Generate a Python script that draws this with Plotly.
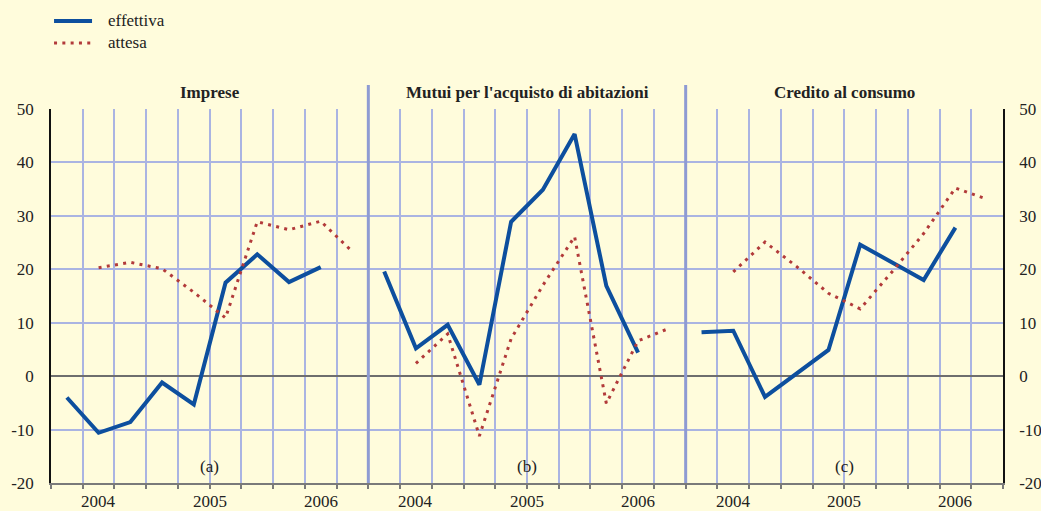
import plotly.graph_objects as go

# ---- data -------------------------------------------------------------
pannelli = ["Imprese", "Mutui per l'acquisto di abitazioni", "Credito al consumo"]
lettere = ["(a)", "(b)", "(c)"]
anni = ["2004", "2005", "2006"]
anni_pos = [1.5, 5.0, 8.5]          # year label location, in quarter slots of a panel
slot_per_pannello = 10              # quarter slots in each panel
serie = ["effettiva", "attesa"]
y_tick_vals = [-20, -10, 0, 10, 20, 30, 40, 50]
y_tick_text = ["-20", "-10", "0", "10", "20", "30", "40", "50"]

effettiva_imprese = [-4.0, -10.6, -8.6, -1.2, -5.3, 17.5, 22.8, 17.6, 20.4]
attesa_imprese = [20.3, 21.3, 20.1, 15.7, 10.9, 28.9, 27.4, 29.0, 23.3]
effettiva_mutui = [19.6, 5.2, 9.6, -1.6, 28.9, 34.9, 45.3, 16.9, 4.4]
attesa_mutui = [2.4, 7.9, -11.2, 7.0, 17.0, 26.1, -5.1, 6.6, 9.0]
effettiva_consumo = [8.2, 8.5, -3.9, 0.5, 4.9, 24.6, 21.3, 18.0, 27.8]
attesa_consumo = [19.5, 25.1, 20.5, 15.5, 12.6, 19.5, 26.7, 35.2, 33.1]

effettiva = [effettiva_imprese, effettiva_mutui, effettiva_consumo]
attesa = [attesa_imprese, attesa_mutui, attesa_consumo]

# ---- style ------------------------------------------------------------
BG = "#FFFCDC"
GRID = "#AAB4E2"
DIV = "#8E9BD3"
BLUE = "#0D4F9E"
RED = "#B23A3A"
TXT = "#222222"
FONT = "Liberation Serif"
DOT = "3px,5.3px"

fig = go.Figure()

for p in range(3):
    off = p * slot_per_pannello
    xe = [off + i + 0.5 for i in range(len(effettiva[p]))]
    xa = [off + i + 1.5 for i in range(len(attesa[p]))]
    fig.add_trace(go.Scatter(
        x=xe, y=effettiva[p], mode="lines", name=serie[0], showlegend=False,
        line=dict(color=BLUE, width=4), yaxis="y"))
    fig.add_trace(go.Scatter(
        x=xa, y=attesa[p], mode="lines", name=serie[1], showlegend=False,
        line=dict(color=RED, width=3, dash=DOT), yaxis="y"))

# invisible trace to carry the right-hand axis
fig.add_trace(go.Scatter(x=[0], y=[0], yaxis="y2", mode="markers",
                         marker=dict(opacity=0), showlegend=False, hoverinfo="skip"))

total = 3 * slot_per_pannello

annotations = []
shapes = []
for p in range(3):
    off = p * slot_per_pannello
    annotations.append(dict(
        x=off + slot_per_pannello / 2, xref="x", y=1.043, yref="paper",
        text="<b>" + pannelli[p] + "</b>", showarrow=False,
        font=dict(family=FONT, size=17, color=TXT), yanchor="middle"))
    annotations.append(dict(
        x=off + slot_per_pannello / 2, xref="x", y=-16.9, yref="y",
        text=lettere[p], showarrow=False,
        font=dict(family=FONT, size=17, color=TXT), yanchor="middle"))
    for a, pos in zip(anni, anni_pos):
        annotations.append(dict(
            x=off + pos, xref="x", y=0, yref="paper", yanchor="top", yshift=-8,
            borderpad=0, text=a, showarrow=False,
            font=dict(family=FONT, size=17, color=TXT)))
    if p > 0:
        shapes.append(dict(type="line", xref="x", yref="paper", x0=off, x1=off,
                           y0=0, y1=1.064, line=dict(color=DIV, width=3), layer="above"))

# legend (drawn by hand to match the original key)
leg_rows = [1.2353, 1.1765]
leg_styles = [dict(color=BLUE, width=4), dict(color=RED, width=3, dash=DOT)]
for name, yy, st in zip(serie, leg_rows, leg_styles):
    shapes.append(dict(type="line", xref="paper", yref="paper", x0=0.0032, x1=0.0431,
                       y0=yy, y1=yy, line=st))
    annotations.append(dict(x=0.0578, xref="paper", y=yy, yref="paper", text=name,
                            showarrow=False, xanchor="left", yanchor="middle",
                            font=dict(family=FONT, size=17, color=TXT)))

fig.update_layout(
    width=1041, height=511,
    margin=dict(l=51, r=38, t=109, b=28, autoexpand=False),
    paper_bgcolor=BG, plot_bgcolor=BG,
    font=dict(family=FONT, size=17, color=TXT),
    showlegend=False,
    annotations=annotations,
    shapes=shapes,
    xaxis=dict(range=[0, total], tick0=0, dtick=1, showgrid=True, gridcolor=GRID,
               gridwidth=1.5, showticklabels=False, ticks="outside", ticklen=4,
               tickcolor="#7A7A7A", tickwidth=1.5, showline=True, linecolor="#7A7A7A",
               linewidth=1.5, zeroline=False, fixedrange=True),
    yaxis=dict(range=[-20, 50], tickvals=y_tick_vals, ticktext=y_tick_text,
               showgrid=True, gridcolor=GRID,
               gridwidth=1.5, zeroline=True, zerolinecolor="#6E6E6E", zerolinewidth=2,
               showline=True, linecolor="#111111", linewidth=1.5, ticks="",
               ticklabelstandoff=12, tickfont=dict(family=FONT, size=17, color=TXT),
               fixedrange=True),
    yaxis2=dict(range=[-20, 50], tickvals=y_tick_vals, ticktext=y_tick_text,
                overlaying="y", side="right",
                showgrid=False, zeroline=False, showline=True, linecolor="#111111",
                linewidth=1.5, ticks="", ticklabelstandoff=11,
                tickfont=dict(family=FONT, size=17, color=TXT), fixedrange=True),
)

fig.write_html("out.html", config={"displayModeBar": False},
               post_script="document.body.style.margin='0px';")
